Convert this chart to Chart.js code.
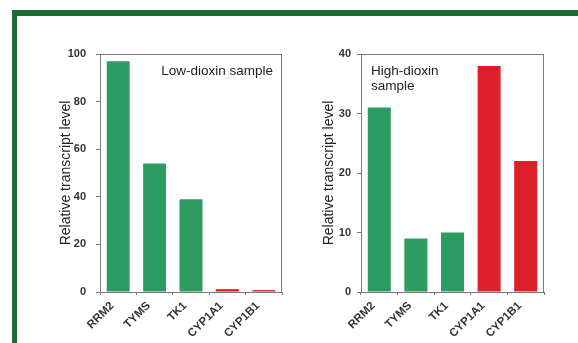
<!DOCTYPE html>
<html>
<head>
<meta charset="utf-8">
<script src="https://cdn.jsdelivr.net/npm/chart.js@4/dist/chart.umd.min.js"></script>
<style>
  body { margin: 0; background: #fff; width: 578px; height: 343px; overflow: hidden; position: relative; }
  #frame { position: absolute; left: 12px; top: 10px; right: 0; bottom: 0;
           border-top: 6px solid #1e6b38; border-left: 5px solid #1e6b38; background: #fff; }
  canvas { position: absolute; top: 20px; }
  #lowChart { left: 20px; }
  #highChart { left: 300px; }
</style>
</head>
<body>
<div id="frame"></div>
<canvas id="lowChart" width="280" height="323"></canvas>
<canvas id="highChart" width="278" height="323"></canvas>
<script>
// gene names along the x axis
const genes = ['RRM2', 'TYMS', 'TK1', 'CYP1A1', 'CYP1B1']

// relative transcript levels
const lowDioxin = [97, 54, 39, 1.2, 0.8]
const highDioxin = [31, 9, 10, 38, 22]

// green = proliferation genes, red = dioxin-response genes
const barColors = ['#2e9b63', '#2e9b63', '#2e9b63', '#dc1f29', '#dc1f29']

const yTitle = 'Relative transcript level'
const axisColor = '#7a7a7a'
const textColor = '#333'

// draws the closed box around the plot area plus the sample label
function boxAndLabel(lines, align, dx) {
  return {
    id: 'boxAndLabel',
    afterDraw(chart) {
      const ctx = chart.ctx
      const a = chart.chartArea
      ctx.save()
      ctx.strokeStyle = axisColor
      ctx.lineWidth = 1
      ctx.strokeRect(a.left + 0.5, a.top + 0.5, a.right - a.left - 1, a.bottom - a.top)
      ctx.fillStyle = '#222'
      ctx.font = '13.5px "Liberation Sans", Arial, sans-serif'
      ctx.textAlign = align
      ctx.textBaseline = 'middle'
      const x = align === 'right' ? a.right - dx : a.left + dx
      lines.forEach((t, i) => ctx.fillText(t, x, a.top + 17 + i * 15))
      ctx.restore()
    }
  }
}

function makeChart(id, values, yMax, yStep, opts) {
  const ctx = document.getElementById(id).getContext('2d')
  return new Chart(ctx, {
    type: 'bar',
    data: {
      labels: genes,
      datasets: [{
        data: values,
        backgroundColor: barColors,
        borderWidth: 0,
        barPercentage: 0.63,
        categoryPercentage: 1
      }]
    },
    options: {
      responsive: false,
      animation: false,
      layout: { padding: { left: opts.padLeft, right: opts.padRight, top: 34, bottom: 0 } },
      plugins: { legend: { display: false }, tooltip: { enabled: false } },
      scales: {
        x: {
          grid: { display: true, drawOnChartArea: false, drawTicks: true, tickLength: 3, color: axisColor, offset: true },
          border: { color: axisColor },
          ticks: {
            color: textColor, minRotation: 45, maxRotation: 45, padding: 4, labelOffset: -6,
            font: { family: '"Liberation Sans", Arial, sans-serif', size: 11.5, weight: 'bold' }
          },
          afterFit(s) { s.height = 51 }
        },
        y: {
          min: 0,
          max: yMax,
          grid: { drawOnChartArea: false, drawTicks: true, tickLength: 4, color: axisColor },
          border: { color: axisColor },
          ticks: {
            stepSize: yStep, color: textColor, padding: opts.tickPad,
            font: { family: '"Liberation Sans", Arial, sans-serif', size: 11, weight: 'bold' }
          },
          title: {
            display: true, text: yTitle, color: '#222',
            padding: { top: opts.titlePad, bottom: 0 },
            font: { family: '"Liberation Sans", Arial, sans-serif', size: 14 }
          },
          afterFit(s) { s.width = opts.yWidth }
        }
      }
    },
    plugins: [boxAndLabel(opts.label, opts.align, opts.dx)]
  })
}

makeChart('lowChart', lowDioxin, 100, 20, {
  padLeft: 30, padRight: 18, yWidth: 50, titlePad: 8, tickPad: 10,
  label: ['Low-dioxin sample'], align: 'right', dx: 9
})

makeChart('highChart', highDioxin, 40, 10, {
  padLeft: 14, padRight: 34, yWidth: 47, titlePad: 7, tickPad: 6,
  label: ['High-dioxin', 'sample'], align: 'left', dx: 10
})
</script>
</body>
</html>
